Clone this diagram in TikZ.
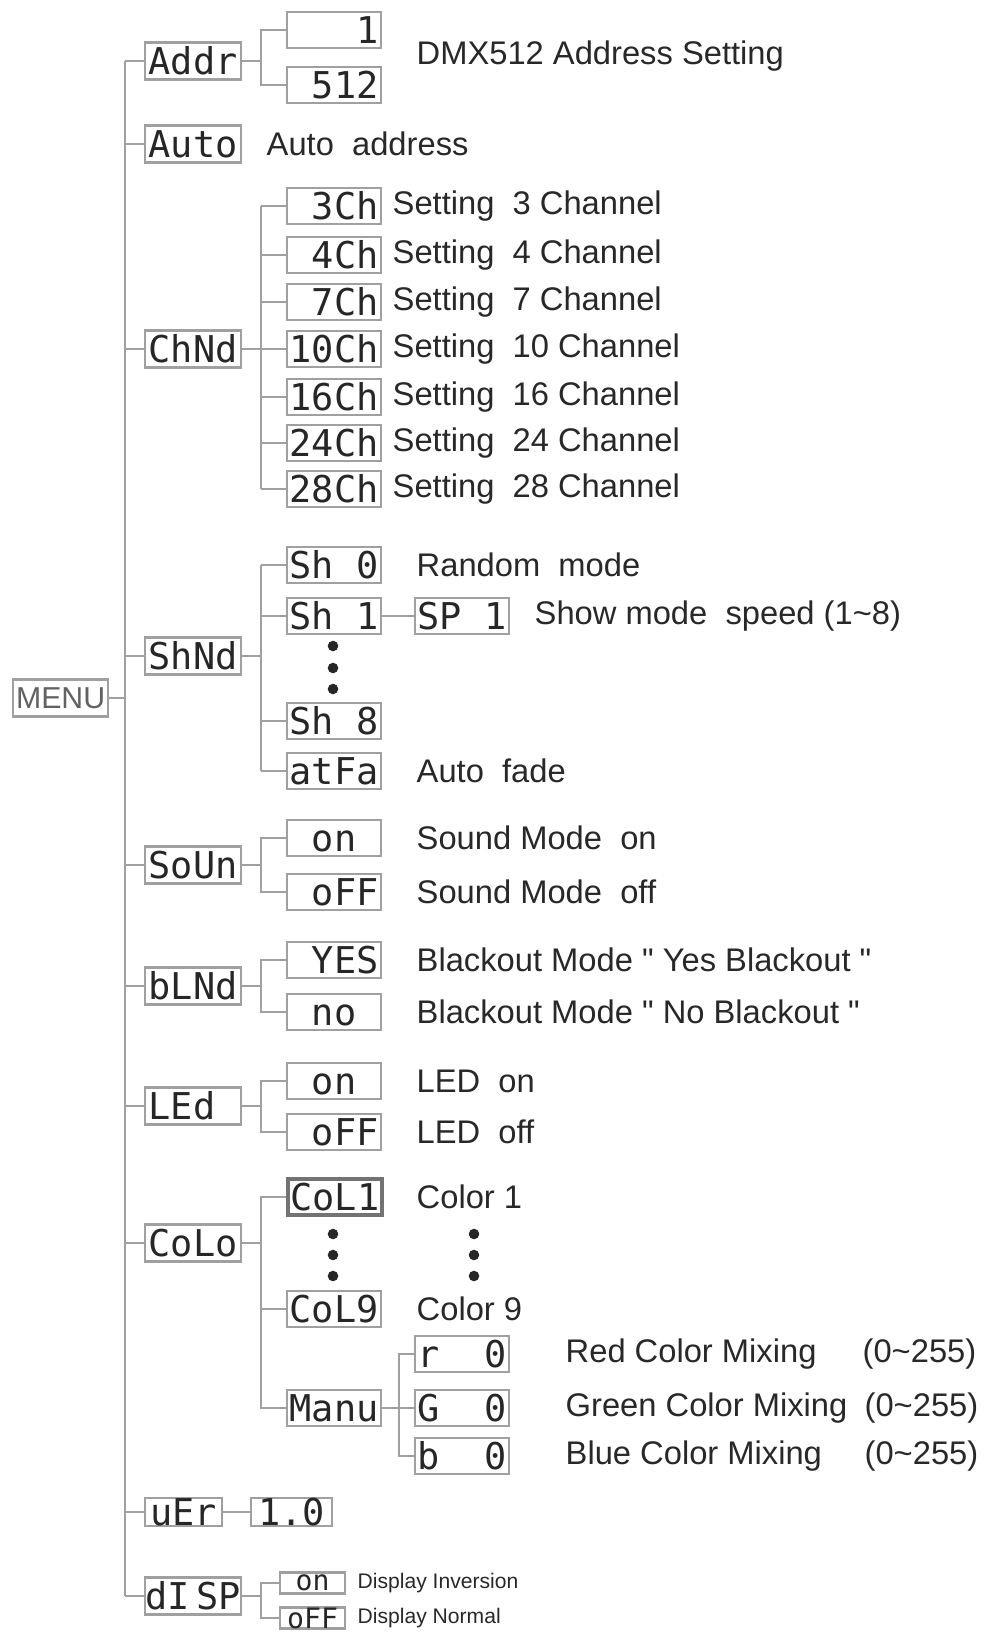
\documentclass[tikz,border=0pt]{standalone}
\usepackage{fontspec}
\setmainfont{Liberation Sans}
\setmonofont{DejaVu Sans Mono}
\usepackage{tikz}
\usetikzlibrary{
	calc,
	positioning
}
\definecolor{LineGray}{RGB}{160,160,160}
\definecolor{SegDark}{RGB}{38,38,38}
\definecolor{TextDark}{RGB}{40,40,40}

\tikzset{
	lcd/.style={draw=LineGray, line width=0.6pt, inner sep=0pt, anchor=west,
		minimum height=0.36cm, text=SegDark, font=\ttfamily\fontsize{10.5}{12}\selectfont},
	lcdtop/.style={lcd, minimum width=0.96cm, minimum height=0.37cm},
	lcdsub/.style={lcd, minimum width=0.94cm},
	lcdsmall/.style={lcd, minimum width=0.65cm, minimum height=0.21cm, font=\ttfamily\fontsize{8}{9}\selectfont},
	desc/.style={anchor=west, inner sep=0pt, text=TextDark, font=\fontsize{9.3}{11}\selectfont},
	descsmall/.style={desc, font=\fontsize{6}{7}\selectfont},
	conn/.style={draw=LineGray, line width=0.8pt},
}

\begin{document}
\begin{tikzpicture}[x=0.01cm, y=-0.01cm]
	\useasboundingbox (0,0) rectangle (984,1633);
	
	% MENU and main trunk
	\node[draw=LineGray, line width=0.6pt, inner sep=0pt, anchor=west, minimum width=0.95cm, minimum height=0.37cm,
		text=black!62, font=\fontsize{8.6}{10}\selectfont] (menu) at (12,698) {MENU};
	\coordinate (trunk) at (125,0);
	\coordinate (bus) at (261,0);
	\coordinate (mixbus) at (399,0);
	
	% first level
	\node[lcdtop] (addr) at (144,61) {Addr};
	\node[lcdtop] (auto) at (144,144) {Auto};
	\node[lcdtop] (chnd) at (144,349) {ChNd};
	\node[lcdtop] (shnd) at (144,656) {ShNd};
	\node[lcdtop] (soun) at (144,865) {SoUn};
	\node[lcdtop] (blnd) at (144,986) {bLNd};
	\node[lcdtop] (led) at (144,1106) {LEd\phantom{0}};
	\node[lcdtop] (colo) at (144,1243) {CoLo};
	\node[lcdtop, minimum width=0.77cm, minimum height=0.27cm] (ver) at (144,1512) {uEr};
	\node[lcdtop] (disp) at (144,1596) {dI\,SP};
	
	% address
	\node[lcdsub] (a1) at (286,30) {~~~1};
	\node[lcdsub] (a512) at (286,85) {~512};
	\node[desc] (taddr) at (416,56) {DMX512 Address Setting};
	\node[desc] (tauto) at (266,144) {Auto~~address};
	
	% channel mode
	\foreach \c/\y/\lab in {3/206/~3Ch, 4/255/~4Ch, 7/302/~7Ch, 10/349/10Ch, 16/397/16Ch, 24/443/24Ch, 28/489/28Ch}{
		\node[lcdsub] (ch\c) at (286,\y) {\lab};
		\node[desc] (tch\c) at (392,\y) {Setting~~\c~Channel};
	}
	
	% show mode
	\node[lcdsub] (sh0) at (286,565) {Sh~0};
	\node[lcdsub] (sh1) at (286,616) {Sh~1};
	\node[lcdsub] (sh8) at (286,721) {Sh~8};
	\node[lcdsub] (atfa) at (286,771) {atFa};
	\node[lcdsub] (sp1) at (414,616) {SP~1};
	\node[desc] (tsh0) at (416,565) {Random~~mode};
	\node[desc] (tsp1) at (534,616) {Show mode~~speed (1\textasciitilde8)};
	\node[desc] (tatfa) at (416,771) {Auto~~fade};
	\foreach \y in {646,668,689}
		\fill[SegDark] (333,\y) circle (1.5pt);
	
	% sound, blackout, led
	\node[lcdsub] (sou1) at (286,838) {~on\phantom{0}};
	\node[lcdsub] (sou0) at (286,892) {~oFF};
	\node[desc] (tsou1) at (416,838) {Sound Mode~~on};
	\node[desc] (tsou0) at (416,892) {Sound Mode~~off};
	\node[lcdsub] (bl1) at (286,960) {~YES};
	\node[lcdsub] (bl0) at (286,1012) {~no\phantom{0}};
	\node[desc] (tbl1) at (416,960) {Blackout Mode \textquotedbl{} Yes Blackout \textquotedbl};
	\node[desc] (tbl0) at (416,1012) {Blackout Mode \textquotedbl{} No Blackout \textquotedbl};
	\node[lcdsub] (led1) at (286,1081) {~on\phantom{0}};
	\node[lcdsub] (led0) at (286,1132) {~oFF};
	\node[desc] (tled1) at (416,1081) {LED~~on};
	\node[desc] (tled0) at (416,1132) {LED~~off};
	
	% colours
	\node[lcdsub, line width=1pt, draw=black!55] (col1) at (286,1197) {CoL1};
	\node[lcdsub] (col9) at (286,1309) {CoL9};
	\node[lcdsub] (manu) at (286,1408) {Manu};
	\node[desc] (tcol1) at (416,1197) {Color 1};
	\node[desc] (tcol9) at (416,1309) {Color 9};
	\foreach \y in {1234,1255,1276}{
		\fill[SegDark] (333,\y) circle (1.5pt);
		\fill[SegDark] (474,\y) circle (1.5pt);
	}
	\node[lcdsub] (mixr) at (414,1354) {r~~0};
	\node[lcdsub] (mixg) at (414,1408) {G~~0};
	\node[lcdsub] (mixb) at (414,1456) {b~~0};
	\node[desc] (tmixr) at (565,1354) {Red Color Mixing};
	\node[desc] (tmixg) at (565,1408) {Green Color Mixing};
	\node[desc] (tmixb) at (565,1456) {Blue Color Mixing};
	\node[desc, anchor=east] (rmixr) at (977,1354) {(0\textasciitilde255)};
	\node[desc, anchor=east] (rmixg) at (979,1408) {(0\textasciitilde255)};
	\node[desc, anchor=east] (rmixb) at (979,1456) {(0\textasciitilde255)};
	
	% version and display
	\node[lcdsub, minimum width=0.81cm, minimum height=0.27cm] (ver1) at (250,1512) {1.0};
	\node[lcdsmall] (disp1) at (279,1583) {on};
	\node[lcdsmall] (disp0) at (279,1618) {oFF};
	\node[descsmall] (tdisp1) at (357,1583) {Display Inversion};
	\node[descsmall] (tdisp0) at (357,1618) {Display Normal};
	
	% connectors
	\draw[conn] (addr.west -| trunk) -- (disp.west -| trunk);
	\draw[conn] (menu.east) -- (menu.east -| trunk);
	\foreach \p in {addr,auto,chnd,shnd,soun,blnd,led,colo,ver,disp}
		\draw[conn] (\p.west) -- (\p.west -| trunk);
	
	\draw[conn] (addr.east) -- (addr.east -| bus);
	\draw[conn] (a1.west) -- (a1.west -| bus) -- (a512.west -| bus) -- (a512.west);
	
	\draw[conn] (chnd.east) -- (chnd.east -| bus);
	\draw[conn] (ch3.west -| bus) -- (ch28.west -| bus);
	\foreach \c in {3,4,7,10,16,24,28}
		\draw[conn] (ch\c.west) -- (ch\c.west -| bus);
	
	\draw[conn] (shnd.east) -- (shnd.east -| bus);
	\draw[conn] (sh0.west -| bus) -- (atfa.west -| bus);
	\foreach \p in {sh0,sh1,sh8,atfa}
		\draw[conn] (\p.west) -- (\p.west -| bus);
	\draw[conn] (sh1.east) -- (sp1.west);
	
	\draw[conn] (soun.east) -- (soun.east -| bus);
	\draw[conn] (sou1.west) -- (sou1.west -| bus) -- (sou0.west -| bus) -- (sou0.west);
	\draw[conn] (blnd.east) -- (blnd.east -| bus);
	\draw[conn] (bl1.west) -- (bl1.west -| bus) -- (bl0.west -| bus) -- (bl0.west);
	\draw[conn] (led.east) -- (led.east -| bus);
	\draw[conn] (led1.west) -- (led1.west -| bus) -- (led0.west -| bus) -- (led0.west);
	
	\draw[conn] (colo.east) -- (colo.east -| bus);
	\draw[conn] (col1.west) -- (col1.west -| bus) -- (manu.west -| bus) -- (manu.west);
	\draw[conn] (col9.west) -- (col9.west -| bus);
	\draw[conn] (manu.east) -- (mixg.west);
	\draw[conn] (mixr.west) -- (mixr.west -| mixbus) -- (mixb.west -| mixbus) -- (mixb.west);
	
	\draw[conn] (ver.east) -- (ver1.west);
	\draw[conn] (disp.east) -- (disp.east -| bus);
	\draw[conn] (disp1.west) -- (disp1.west -| bus) -- (disp0.west -| bus) -- (disp0.west);
\end{tikzpicture}
\end{document}
